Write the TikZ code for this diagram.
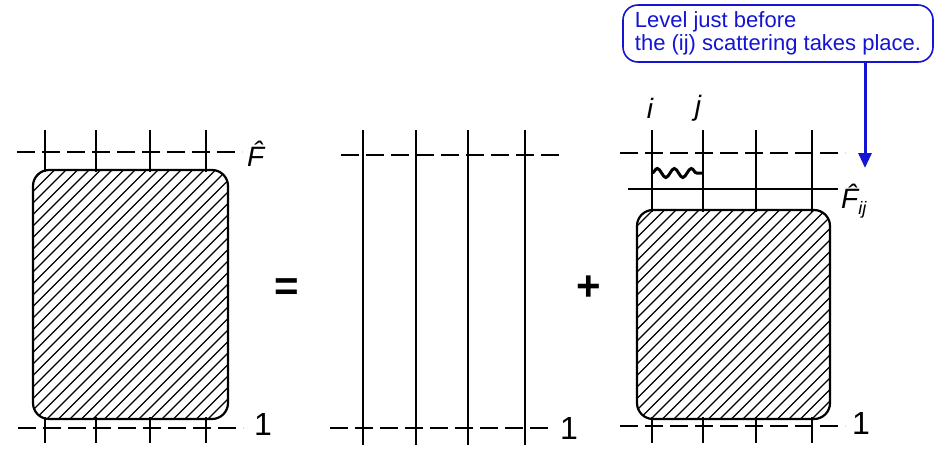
\documentclass[tikz,border=0pt]{standalone}
\usepackage{fontspec}
\setmainfont{Liberation Sans}
\usetikzlibrary{decorations.pathmorphing,arrows.meta}
\definecolor{callblue}{RGB}{20,20,210}
\begin{document}
\begin{tikzpicture}[x=1pt,y=-1pt,
  wire/.style={line width=2.2pt},
  dline/.style={line width=2.2pt,dash pattern=on 18pt off 7pt},
  sline/.style={line width=1.6pt},
  hbox/.style={draw,line width=2.2pt,rounded corners=16pt,inner sep=0pt,
    path picture={\foreach \i in {-400,-388.5,...,250}
      \draw[line width=1.3pt] ([xshift=\i pt]path picture bounding box.south west) -- ++(400pt,400pt);}},
  lab/.style={inner sep=0pt,font=\fontsize{32}{32}\selectfont},
  flab/.style={inner sep=0pt,font=\fontsize{28}{28}\selectfont\itshape},
  opl/.style={inner sep=0pt,font=\fontsize{42}{42}\selectfont\bfseries}]
\useasboundingbox (0,0) rectangle (938,448);

% ---------- left panel ----------
\foreach \x [count=\n] in {45,96,150,206}{
  \coordinate (lt\n) at (\x,130);
  \coordinate (lb\n) at (\x,443);
  \draw[wire] (lt\n) -- (\x,172);
  \draw[wire] (\x,417) -- (lb\n);
}
\node[hbox,minimum width=195pt,minimum height=249pt] (lbox) at (130.5,294.5) {};
\coordinate (ld1) at (17,152); \coordinate (ld2) at (242,152);
\draw[dline] (ld1) -- (ld2);
\node[flab,anchor=west] (lF) at (247,154) {\^{F}};
\coordinate (lbd1) at (18,428); \coordinate (lbd2) at (243,428);
\draw[dline] (lbd1) -- (lbd2);
\node[lab] (l1) at (263,424) {1};

\node[opl] (eq) at (287,290) {=};

% ---------- middle panel ----------
\foreach \x [count=\n] in {363,416,468,525}{
  \coordinate (mt\n) at (\x,130);
  \coordinate (mb\n) at (\x,445);
  \draw[wire] (mt\n) -- (mb\n);
}
\coordinate (md1) at (341,155); \coordinate (md2) at (565,155);
\draw[dline] (md1) -- (md2);
\coordinate (mbd1) at (330,428); \coordinate (mbd2) at (552,428);
\draw[dline] (mbd1) -- (mbd2);
\node[lab] (m1) at (569,428) {1};

\node[opl] (pl) at (589,288) {+};

% ---------- right panel ----------
\foreach \x [count=\n] in {652,703,756,812}{
  \coordinate (rt\n) at (\x,130);
  \coordinate (rb\n) at (\x,443);
  \draw[wire] (rt\n) -- (\x,212);
  \draw[wire] (\x,417) -- (rb\n);
}
\node[hbox,minimum width=193pt,minimum height=209pt] (rbox) at (733.5,314.5) {};
\coordinate (rd1) at (620,153); \coordinate (rd2) at (845,153);
\draw[dline] (rd1) -- (rd2);
\coordinate (rs1) at (628,189); \coordinate (rs2) at (838,189);
\draw[sline] (rs1) -- (rs2);
\node[flab,anchor=west] (rF) at (841,201) {\^{F}\raisebox{-6pt}{\fontsize{18}{18}\selectfont\itshape ij}};
\coordinate (rbd1) at (620,426); \coordinate (rbd2) at (845,426);
\draw[dline] (rbd1) -- (rbd2);
\node[lab] (r1) at (861,423) {1};
\node[flab] (li) at (650,108) {i};
\node[flab] (lj) at (698,108) {j};
\coordinate (w1) at (652,173); \coordinate (w2) at (703,173);
\draw[line width=3pt,decorate,decoration={snake,segment length=17pt,amplitude=4.5pt}] (w1) -- (w2);

% ---------- callout ----------
\node[draw=callblue,text=callblue,line width=1.6pt,rounded corners=15pt,
  minimum width=310pt,minimum height=57pt,align=left,inner xsep=11pt,
  font=\fontsize{22}{23.5}\selectfont] (call) at (778,33.5)
  {Level just before\hspace*{120pt}\\the (ij) scattering takes place.};
\coordinate (tip) at (865,168);
\draw[callblue,line width=3pt,-{Triangle[length=15pt,width=13pt]}] (call.south -| tip) -- (tip);
\end{tikzpicture}
\end{document}
